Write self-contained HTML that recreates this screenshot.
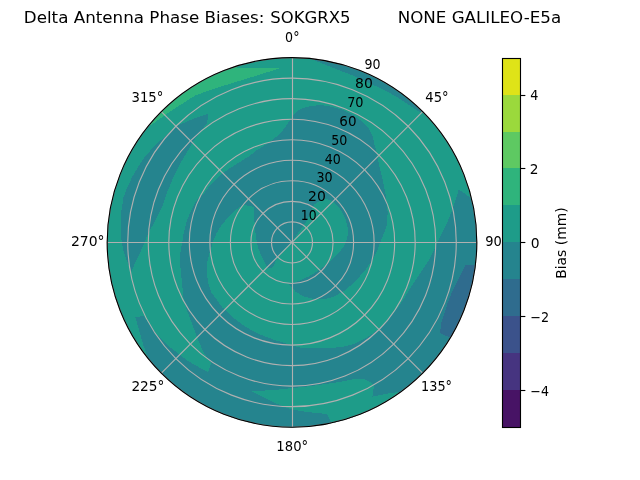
<!DOCTYPE html>
<html lang="en"><head><meta charset="utf-8"><title>Delta Antenna Phase Biases: SOKGRX5 NONE GALILEO-E5a</title>
<style>html,body{margin:0;padding:0;background:#fff}body{width:640px;height:480px;overflow:hidden}svg{display:block}text{font-family:"DejaVu Sans","Liberation Sans",sans-serif;fill:#000;white-space:pre}.t10{font-size:13.889px}.t12{font-size:16.667px}</style></head><body>
<svg width="640" height="480" viewBox="0 0 640 480">
<rect width="640" height="480" fill="#fff"/>
<defs><clipPath id="disk"><circle cx="292" cy="242.4" r="184.8"/></clipPath></defs>
<g clip-path="url(#disk)" shape-rendering="crispEdges">
<circle cx="292" cy="242.4" r="185.8" fill="#1e9c89"/>
<path d="M140.06 361.08L148.69 371.37L158.01 381.03L167.99 390.02L178.56 398.3L189.69 405.82L201.32 412.54L213.38 418.44L225.82 423.49L238.59 427.65L251.62 430.92L264.84 433.28L278.19 434.7L291.61 435.2L305.03 434.76L318.39 433.39L331.62 431.08L344.66 427.87L357.44 423.75L369.91 418.76L382 412.91L393.65 406.23L404.81 398.75L415.42 390.52L425.43 381.57L434.79 371.95L443.46 361.69L451.4 350.86L458.56 339.5L464.92 327.67L470.43 315.43L475.09 302.83L478.85 289.94L481.7 276.81L483.64 263.53L484.64 250.13L484.72 236.71L483.85 223.3L482.06 209.99L479.34 196.84L471.5 198.75L470 197.5L465 193.75L458.75 189.5L454.7 202.8L451.6 211.4L446.9 223.1L442.2 232.5L437.5 241.9L434 250L427.5 262.5L417.5 277.5L409.1 290L404.4 297.8L398.1 307.2L390.3 316.6L382.5 325.2L374.7 332.2L365.3 338.4L354.4 343.9L341.9 347L329.4 348.1L320 348.1L311.25 347.8L300.3 347.5L292.5 345.6L286.25 343.6L273.75 339.7L261.25 335L250.3 329.5L243.75 325.6L236.25 320L228.75 313.75L222.5 307.5L216.9 300L211.25 292.5L208.75 285L206.9 275L207.25 262.5L209 255L210.5 250L213.1 241.25L216.9 232.5L222.5 223.75L228.75 216.9L237.5 208.5L244.4 205L254.4 206.9L254.4 221.25L255.6 233.75L256.9 242.5L258.1 247.5L260.6 253.75L263.75 260L266.9 266.9L270 268.75L273.1 266.9L275 262.5L277.5 256.9L281.25 252.5L287.5 246.25L292 242.4L297.5 233.75L305 223.75L310.6 212.5L314.4 204.4L320 200.6L326.25 198.75L332.5 201.25L340 208.75L345 217.5L347.5 227.5L347.75 235L346.4 240L344 246.25L337.8 254L330 261.9L320.6 268.9L309.7 276L298.75 281L288.6 284.2L295.6 291.6L303.4 296.25L314.4 299.1L325.3 299.1L334.7 296.25L345.6 290L355 281.4L364.4 271.25L372.2 260.3L377.7 249.4L380 243L384.5 232L386.9 225L387.7 212.5L386.1 196.9L383 181.25L379.1 165.6L376.7 152.5L374.5 144.7L373 136.9L369.1 129L362.8 122L353.4 115L342.5 109.5L330 106.4L320 105L310 106.25L302.5 108.1L297.5 110.6L292.5 116.25L287.5 123.75L281.25 132.5L272.5 140L265 145L256.25 150.6L250 155.6L240 161.9L230 168.1L221.25 174.4L215 180L208.75 186.9L203.75 193.75L200 196.5L195 202.5L190 212.5L186.25 222.5L183.75 232.5L182.25 242.5L180.6 250L180 262.5L181.25 275L182.5 287.5L183.75 300L186.9 310L190.6 320L194.4 330L198.1 340L202.5 350L207.5 358.75L211.25 362.5L208.1 371.9L198.75 367.2L187.8 360.9L176.9 352.3L167.5 345.3L156.6 334.4L143.3 315.6L135.5 317.5L139.4 331.25L143.3 345.3L147.2 355.5Z" fill="#25848e"/>
<path d="M208.4 113.5L193.75 118.75L182.5 123.4L175.75 126.6L163.75 137.5L155.5 145L145.3 156.25L139 165.6L132.2 176.9L126.2 190L123.4 197.5L121.2 212.5L120.7 225L121.2 238L123.2 250L126.3 259L129.3 266.5L131.3 272L135.25 262.5L141.25 250L147.5 235L155.5 220L162 207.5L167 192.5L173.3 177.5L180.8 162.5L188.3 150L192.5 142.2L197.5 135.6L207.25 122.5Z" fill="#25848e"/>
<path d="M311 59L331.25 67.2L351.6 75L370.3 83.6L384.7 90.3L395.6 96.25L408.1 104.3L417.5 110.8L421.7 112.8L423.6 110.9L428.38 106.12L418.77 97.14L408.57 88.83L397.82 81.24L386.58 74.4L374.91 68.34L362.84 63.09L350.45 58.67L337.78 55.11L324.9 52.43L311.87 50.63Z" fill="#25848e"/>
<path d="M330.6 421.25L327.5 414.7L321.25 413.4L305.6 411.9L293.1 409.5L286.9 408L275.9 403.3L265 397.8L251.7 391.25L274.4 390L292.3 388.1L310.3 386.1L327.5 383.75L340 381.9L352.5 379.4L363.75 379L371.25 382.5L374.4 386.25L373 391.25L372.5 396.5L380 395L390 393L398 392.25L403.34 399.8L392.52 406.92L381.25 413.3L369.58 418.9L357.55 423.71L345.23 427.71L332.67 430.86Z" fill="#1e9c89"/>
<path d="M151 125L173.5 109.3L195 95.6L210 90L281 68L237 68L234.01 58.53L222.47 62.57L211.21 67.34L200.27 72.82L189.71 78.97L179.55 85.79L169.85 93.23L160.64 101.28L151.95 109.89L143.84 119.03Z" fill="#2fb47c"/>
<path d="M450.5 337.5L440 333.3L441.25 323L444.8 312.5L447.9 302L453.1 289.6L460.4 275L465.6 265L476 265L483.36 265.9L481.26 279.17L478.24 292.27L474.31 305.12L469.5 317.66L463.83 329.84L457.32 341.59Z" fill="#2f6c8e"/>
</g>
<g fill="none" stroke="#b0b0b0" stroke-width="1.11">
<line x1="292.5" y1="57.6" x2="292.5" y2="427.2"/>
<line x1="107.2" y1="242.5" x2="476.8" y2="242.5"/>
<line x1="292" y1="242.4" x2="422.67" y2="111.73"/>
<line x1="292" y1="242.4" x2="422.67" y2="373.07"/>
<line x1="292" y1="242.4" x2="161.33" y2="373.07"/>
<line x1="292" y1="242.4" x2="161.33" y2="111.73"/>
<circle cx="292" cy="242.4" r="20.53"/>
<circle cx="292" cy="242.4" r="41.07"/>
<circle cx="292" cy="242.4" r="61.6"/>
<circle cx="292" cy="242.4" r="82.13"/>
<circle cx="292" cy="242.4" r="102.67"/>
<circle cx="292" cy="242.4" r="123.2"/>
<circle cx="292" cy="242.4" r="143.73"/>
<circle cx="292" cy="242.4" r="164.27"/>
<circle cx="292" cy="242.4" r="184.8"/>
</g>
<circle cx="292" cy="242.4" r="184.8" fill="none" stroke="#000" stroke-width="1.11"/>
<text class="t10" transform="translate(285.1 42) scale(0.9101 1)">0°</text>
<text class="t10" transform="translate(425.31 102) scale(0.9459 1)">45°</text>
<text class="t10" transform="translate(485.18 246) scale(0.9385 1)">90°</text>
<text class="t10" transform="translate(421.01 391) scale(0.9273 1)">135°</text>
<text class="t10" transform="translate(276.37 451) scale(0.9502 1)">180°</text>
<text class="t10" transform="translate(131.41 391) scale(0.9863 1)">225°</text>
<text class="t10" transform="translate(70.99 246) scale(1.0056 1)">270°</text>
<text class="t10" transform="translate(131.55 102) scale(0.9510 1)">315°</text>
<text class="t10" transform="translate(300.76 220) scale(0.8918 1)">10</text>
<text class="t10" transform="translate(307.99 201) scale(1.0063 1)">20</text>
<text class="t10" transform="translate(316.38 182) scale(0.9175 1)">30</text>
<text class="t10" transform="translate(324.63 164) scale(0.9085 1)">40</text>
<text class="t10" transform="translate(331.29 145) scale(0.9143 1)">50</text>
<text class="t10" transform="translate(339.33 126) scale(0.9714 1)">60</text>
<text class="t10" transform="translate(347.16 107) scale(0.9280 1)">70</text>
<text class="t10" transform="translate(355.12 88) scale(1.0079 1)">80</text>
<text class="t10" transform="translate(364.41 69) scale(0.9071 1)">90</text>
<text class="t12" xml:space="preserve"><tspan x="23.77" y="23" textLength="240.51" lengthAdjust="spacingAndGlyphs">Delta Antenna Phase Biases:</tspan><tspan> </tspan><tspan x="270.34" y="23" textLength="80.11" lengthAdjust="spacingAndGlyphs">SOKGRX5</tspan><tspan>         </tspan><tspan x="397.67" y="23" textLength="163.47" lengthAdjust="spacingAndGlyphs">NONE GALILEO-E5a</tspan></text>
<g shape-rendering="crispEdges">
<rect x="502.5" y="390" width="18" height="37.5" fill="#471365"/>
<rect x="502.5" y="353" width="18" height="37" fill="#463480"/>
<rect x="502.5" y="316" width="18" height="37" fill="#3b528b"/>
<rect x="502.5" y="279" width="18" height="37" fill="#2f6c8e"/>
<rect x="502.5" y="242" width="18" height="37" fill="#25848e"/>
<rect x="502.5" y="205" width="18" height="37" fill="#1e9c89"/>
<rect x="502.5" y="168" width="18" height="37" fill="#2fb47c"/>
<rect x="502.5" y="132" width="18" height="36" fill="#5ec962"/>
<rect x="502.5" y="95" width="18" height="37" fill="#9bd93c"/>
<rect x="502.5" y="58.5" width="18" height="36.5" fill="#dfe318"/>
</g>
<rect x="502.5" y="58.5" width="18" height="369" fill="none" stroke="#000" stroke-width="1.11"/>
<line x1="520.5" y1="390.5" x2="525.36" y2="390.5" stroke="#000" stroke-width="1.11"/>
<text class="t10" transform="translate(530.34 396) scale(0.9096 1)">−4</text>
<line x1="520.5" y1="316.5" x2="525.36" y2="316.5" stroke="#000" stroke-width="1.11"/>
<text class="t10" transform="translate(530.32 322) scale(0.9191 1)">−2</text>
<line x1="520.5" y1="242.5" x2="525.36" y2="242.5" stroke="#000" stroke-width="1.11"/>
<text class="t10" transform="translate(530.73 248) scale(1.0000 1)">0</text>
<line x1="520.5" y1="168.5" x2="525.36" y2="168.5" stroke="#000" stroke-width="1.11"/>
<text class="t10" transform="translate(529.77 174) scale(0.9892 1)">2</text>
<line x1="520.5" y1="95.5" x2="525.36" y2="95.5" stroke="#000" stroke-width="1.11"/>
<text class="t10" transform="translate(530.32 100) scale(0.9200 1)">4</text>
<text class="t10" text-anchor="middle" transform="translate(566.39 243.1) rotate(-90)">Bias (mm)</text>
</svg></body></html>
